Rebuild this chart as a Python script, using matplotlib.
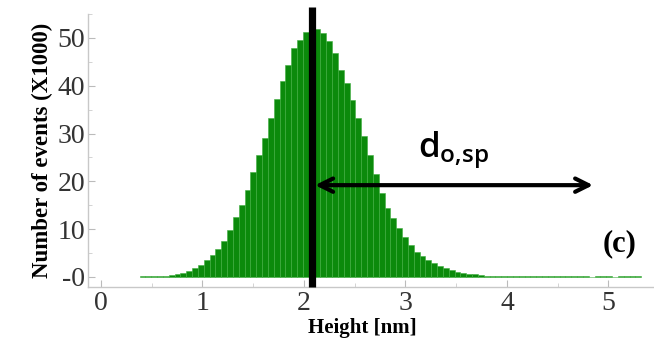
import numpy as np
import matplotlib.pyplot as plt
from matplotlib.ticker import MultipleLocator

# histogram of heights (counts in thousands), bins of equal width
bin_start = 0.38
bin_width = 0.0575
counts = [0.1, 0.1, 0.15, 0.2, 0.3, 0.4, 0.6, 0.9, 1.3, 1.9,
          2.6, 3.5, 4.5, 5.8, 7.5, 9.8, 12.6, 15.1, 18.2, 21.9,
          25.5, 29.1, 33.2, 37.2, 40.9, 44.4, 47.8, 49.6, 51.3, 52.2,
          51.8, 51.0, 49.4, 46.8, 43.3, 40.5, 37.0, 33.2, 29.4, 25.5,
          21.5, 17.5, 14.4, 12.3, 10.2, 8.4, 6.7, 5.3, 4.4, 3.6,
          2.9, 2.3, 1.8, 1.5, 1.1, 0.9, 0.7, 0.55, 0.4, 0.3,
          0.25, 0.2, 0.15, 0.12, 0.1, 0.1, 0.1, 0.1, 0.1, 0.1,
          0.1, 0.1, 0.1, 0.1, 0.1, 0.1, 0.1, 0.0, 0.1, 0.1,
          0.1, 0.0, 0.1, 0.1, 0.1, 0.1]
d_sp = 2.08          # position of the vertical marker
arrow_end = 4.85
arrow_y = 19.2

xticks = [0, 1, 2, 3, 4, 5]
yticks = [0, 10, 20, 30, 40, 50]
ytick_labels = ['-0', '10', '20', '30', '40', '50']

edges = bin_start + bin_width * np.arange(len(counts))

fig = plt.figure(figsize=(6.54, 3.44), dpi=100)
ax = fig.add_axes([0.1346, 0.1657, 0.8654, 0.7936])

ax.bar(edges, counts, width=bin_width, align='edge',
       color='#0b8a0b', edgecolor='#3fae3f', linewidth=0.4)

ax.set_xlim(-0.128, 5.45)
ax.set_ylim(-2.1, 55)

ax.set_xticks(xticks)
ax.set_yticks(yticks)
ax.set_yticklabels(ytick_labels)
ax.xaxis.set_minor_locator(MultipleLocator(0.5))
ax.yaxis.set_minor_locator(MultipleLocator(5))

serif = 'Liberation Serif'
for lab in ax.get_xticklabels() + ax.get_yticklabels():
    lab.set_fontfamily(serif)
    lab.set_fontsize(20)
    lab.set_color('#333333')

ax.tick_params(which='major', direction='in', length=5, width=0.8,
               color='#bbbbbb')
ax.tick_params(which='minor', direction='in', length=3, width=0.6,
               color='#cccccc')
ax.tick_params(axis='y', pad=2)
ax.tick_params(axis='x', pad=3)

for s in ['top', 'right']:
    ax.spines[s].set_visible(False)
for s in ['left', 'bottom']:
    ax.spines[s].set_color('#c8c8c8')
    ax.spines[s].set_linewidth(1.0)

ax.set_xlabel('Height [nm]', fontfamily=serif, fontweight='bold',
              fontsize=15, labelpad=0)
ax.xaxis.set_label_coords(0.484, -0.112)
ax.xaxis.label.set_va('top')
ax.set_ylabel('Number of events (X1000)', fontfamily=serif,
              fontweight='bold', fontsize=16.5, labelpad=3)

# vertical marker
ax.plot([d_sp, d_sp], [-2.1, 56.5], color='black', lw=5.2,
        solid_capstyle='butt', clip_on=False, zorder=5)

# double headed arrow
ax.annotate('', xy=(arrow_end, arrow_y), xytext=(d_sp + 0.03, arrow_y),
            arrowprops=dict(arrowstyle='<->', lw=3, color='black',
                            mutation_scale=24, shrinkA=0, shrinkB=0),
            zorder=6)
ax.text(3.12, 24.8, r'$\mathregular{d_{o{,}sp}}$', fontfamily='Open Sans',
        fontweight='semibold', fontsize=25, ha='left', va='baseline')

ax.text(5.11, 7.0, '(c)', fontfamily=serif, fontweight='bold',
        fontsize=22, ha='center', va='center')

fig.savefig('out.png', dpi=100)
